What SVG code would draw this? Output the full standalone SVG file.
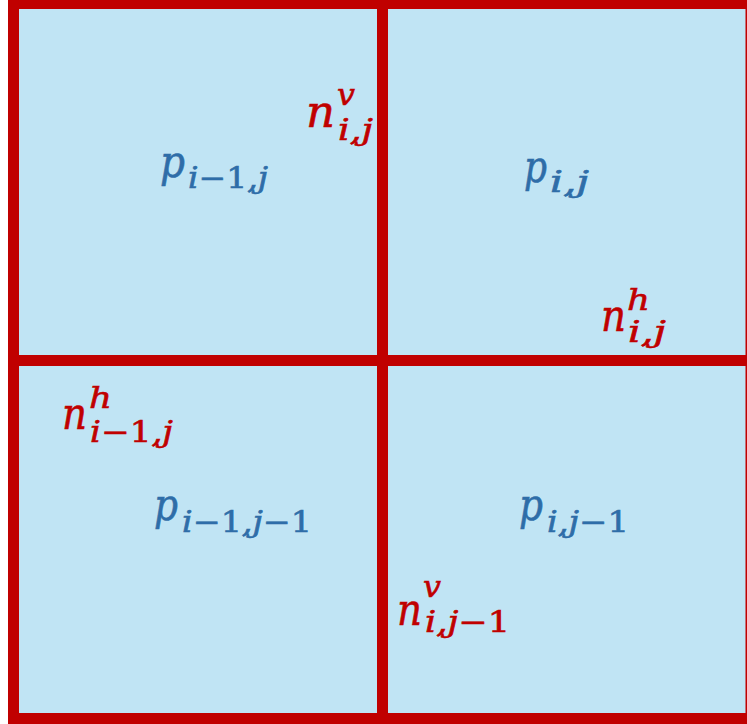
<svg xmlns="http://www.w3.org/2000/svg" width="747" height="724" viewBox="0 0 747 724">
<style>
.cell{fill:#C0E4F4}
.bar{fill:#C00000}
.m{font-family:"DejaVu Serif","Liberation Serif",serif;font-style:italic;stroke-width:0.6}
.up{font-style:normal}
.b{fill:#2E6DA8;stroke:#2E6DA8}
.r{fill:#C00000;stroke:#C00000}
.big{font-size:44px}
.sm{font-size:29px}
</style>
<rect x="0" y="0" width="747" height="724" fill="#FFFFFF"/>
<g id="cell-p-im1-j"><rect class="cell" x="19" y="9" width="358" height="346"/></g>
<g id="cell-p-i-j"><rect class="cell" x="388" y="9" width="359" height="346"/></g>
<g id="cell-p-im1-jm1"><rect class="cell" x="19" y="366" width="358" height="347"/></g>
<g id="cell-p-i-jm1"><rect class="cell" x="388" y="366" width="359" height="347"/></g>
<g id="grid-lines">
<rect class="bar" x="8" y="0" width="11" height="724"/>
<rect class="bar" x="8" y="0" width="739" height="9"/>
<rect class="bar" x="8" y="713" width="739" height="11"/>
<rect class="bar" x="745.5" y="0" width="1.5" height="724"/>
<rect class="bar" x="377" y="0" width="11" height="724"/>
<rect class="bar" x="8" y="355" width="739" height="11"/>
</g>
<g id="labels-p" class="m b">
<text class="big" x="160" y="177" textLength="25" lengthAdjust="spacingAndGlyphs">p</text>
<text class="sm" x="188" y="188" textLength="80" lengthAdjust="spacingAndGlyphs">i<tspan class="up">−1</tspan>,j</text>
<text class="big" x="524" y="182" textLength="23" lengthAdjust="spacingAndGlyphs">p</text>
<text class="sm" x="550" y="192" textLength="39" lengthAdjust="spacingAndGlyphs">i,j</text>
<text class="big" x="154" y="520" textLength="24" lengthAdjust="spacingAndGlyphs">p</text>
<text class="sm" x="182" y="532" textLength="130" lengthAdjust="spacingAndGlyphs">i<tspan class="up">−1</tspan>,j<tspan class="up">−1</tspan></text>
<text class="big" x="519" y="520" textLength="24" lengthAdjust="spacingAndGlyphs">p</text>
<text class="sm" x="547" y="532" textLength="82" lengthAdjust="spacingAndGlyphs">i,j<tspan class="up">−1</tspan></text>
</g>
<g id="labels-n" class="m r">
<text class="big" x="306" y="127" textLength="29" lengthAdjust="spacingAndGlyphs">n</text>
<text class="sm" x="337" y="105" textLength="18" lengthAdjust="spacingAndGlyphs">v</text>
<text class="sm" x="338" y="140" textLength="35" lengthAdjust="spacingAndGlyphs">i,j</text>
<text class="big" x="601" y="331" textLength="25" lengthAdjust="spacingAndGlyphs">n</text>
<text class="sm" x="627" y="310" textLength="23" lengthAdjust="spacingAndGlyphs">h</text>
<text class="sm" x="628" y="342" textLength="38" lengthAdjust="spacingAndGlyphs">i,j</text>
<text class="big" x="62" y="429" textLength="25" lengthAdjust="spacingAndGlyphs">n</text>
<text class="sm" x="89" y="408" textLength="23" lengthAdjust="spacingAndGlyphs">h</text>
<text class="sm" x="90" y="442" textLength="83" lengthAdjust="spacingAndGlyphs">i<tspan class="up">−1</tspan>,j</text>
<text class="big" x="397" y="625" textLength="25" lengthAdjust="spacingAndGlyphs">n</text>
<text class="sm" x="423" y="597" textLength="18" lengthAdjust="spacingAndGlyphs">v</text>
<text class="sm" x="425" y="632" textLength="85" lengthAdjust="spacingAndGlyphs">i,j<tspan class="up">−1</tspan></text>
</g>
</svg>
